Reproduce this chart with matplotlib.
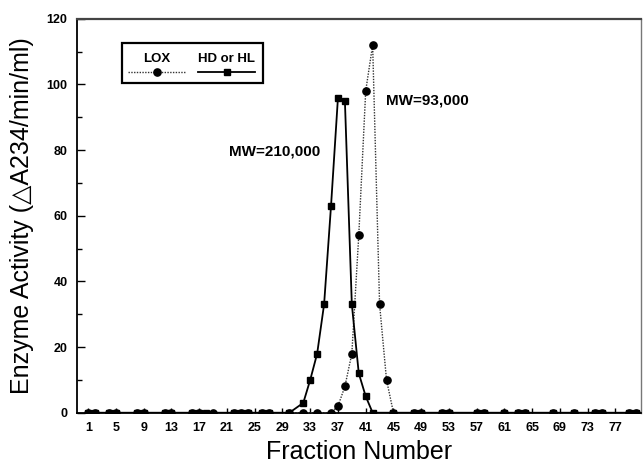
import matplotlib as mpl
import matplotlib.pyplot as plt
from matplotlib.lines import Line2D
from matplotlib.patches import Rectangle

# config: start
FIGSIZE = (6.43, 4.69)
DPI = 100
FONT = ["Liberation Sans", "DejaVu Sans"]
# config: end

# LOX activity per fraction (dotted line, circles)
lox_fraction = [1, 2, 4, 5, 8, 9, 12, 13, 16, 17, 19, 22, 23, 24, 26, 27, 30, 32, 34, 36,
                37, 38, 39, 40, 41, 42, 43, 44, 45,
                48, 49, 52, 53, 57, 58, 61, 63, 64, 68, 71, 74, 75, 79, 80]
lox_activity = [0, 0, 0, 0, 0, 0, 0, 0, 0, 0, 0, 0, 0, 0, 0, 0, 0, 0, 0, 0,
                2, 8, 18, 54, 98, 112, 33, 10, 0,
                0, 0, 0, 0, 0, 0, 0, 0, 0, 0, 0, 0, 0, 0, 0]

# HD or HL activity per fraction (solid line, squares)
hd_fraction = [1, 2, 4, 5, 8, 9, 12, 13, 16, 17, 18, 22, 23, 24, 26, 27, 30,
               32, 33, 34, 35, 36, 37, 38, 39, 40, 41, 42,
               45, 48, 49, 52, 53, 57, 58, 61, 63, 64, 68, 71, 74, 75, 79, 80]
hd_activity = [0, 0, 0, 0, 0, 0, 0, 0, 0, 0, 0, 0, 0, 0, 0, 0, 0,
               3, 10, 18, 33, 63, 96, 95, 33, 12, 5, 0,
               0, 0, 0, 0, 0, 0, 0, 0, 0, 0, 0, 0, 0, 0, 0, 0]

x_ticks = list(range(1, 78, 4))
y_ticks = list(range(0, 121, 20))

annotations = [("MW=210,000", 27.8, 79.5), ("MW=93,000", 49.9, 95.1)]


def main() -> None:
    mpl.rcParams["font.family"] = FONT
    fig = plt.figure(figsize=FIGSIZE, dpi=DPI)
    ax = fig.add_axes([0.12, 0.12, 0.877, 0.84])

    ax.plot(lox_fraction, lox_activity, color="#333333", linestyle=(0, (1, 1)), lw=1.0,
            marker="o", markersize=5.2, markerfacecolor="black", markeredgecolor="black",
            zorder=3)
    ax.plot(hd_fraction, hd_activity, color="black", linestyle="-", lw=1.3,
            marker="s", markersize=4.6, markerfacecolor="black", markeredgecolor="black",
            zorder=4)

    ax.set_xlim(-0.6, 80.7)
    ax.set_ylim(0, 120)
    ax.set_xticks(x_ticks)
    ax.set_yticks(y_ticks)
    ax.set_yticks(range(10, 120, 20), minor=True)
    ax.tick_params(axis="both", which="major", direction="in", width=1.0, labelsize=9, pad=7)
    ax.tick_params(axis="y", which="major", length=5.5)
    ax.tick_params(axis="y", which="minor", direction="in", length=3.5, width=1.0)
    ax.tick_params(axis="x", which="major", length=3.5)
    for lab in ax.get_xticklabels() + ax.get_yticklabels():
        lab.set_fontweight("bold")

    for side in ["left", "bottom"]:
        ax.spines[side].set_linewidth(1.3)
    ax.spines["top"].set_linewidth(1.6)
    ax.spines["top"].set_color("#444444")
    ax.spines["right"].set_linewidth(1.0)
    ax.spines["right"].set_color("#777777")

    ax.set_xlabel("Fraction Number", fontsize=18, labelpad=4)
    ax.set_ylabel("Enzyme Activity (\u25b3A234/min/ml)", fontsize=18, labelpad=9)

    for text, x, y in annotations:
        ax.text(x, y, text, ha="center", va="center", fontsize=11, fontweight="bold")

    # legend box with labels above the line samples
    ax.add_patch(Rectangle((0.079, 0.836), 0.250, 0.102, transform=ax.transAxes,
                           fill=False, lw=1.6, edgecolor="black", zorder=5))
    ax.text(0.142, 0.899, "LOX", transform=ax.transAxes, ha="center", va="center",
            fontsize=9.5, fontweight="bold")
    ax.text(0.265, 0.899, "HD or HL", transform=ax.transAxes, ha="center", va="center",
            fontsize=9.5, fontweight="bold")
    ax.add_line(Line2D([0.090, 0.193], [0.865, 0.865], transform=ax.transAxes,
                       color="#333333", linestyle=(0, (1, 1)), lw=1.0))
    ax.add_line(Line2D([0.142], [0.865], transform=ax.transAxes, marker="o",
                       markersize=5.2, color="black", linestyle="none"))
    ax.add_line(Line2D([0.215, 0.316], [0.865, 0.865], transform=ax.transAxes,
                       color="black", lw=1.3))
    ax.add_line(Line2D([0.265], [0.865], transform=ax.transAxes, marker="s",
                       markersize=4.6, color="black", linestyle="none"))

    fig.savefig("out.png", dpi=DPI)


if __name__ == "__main__":
    main()
